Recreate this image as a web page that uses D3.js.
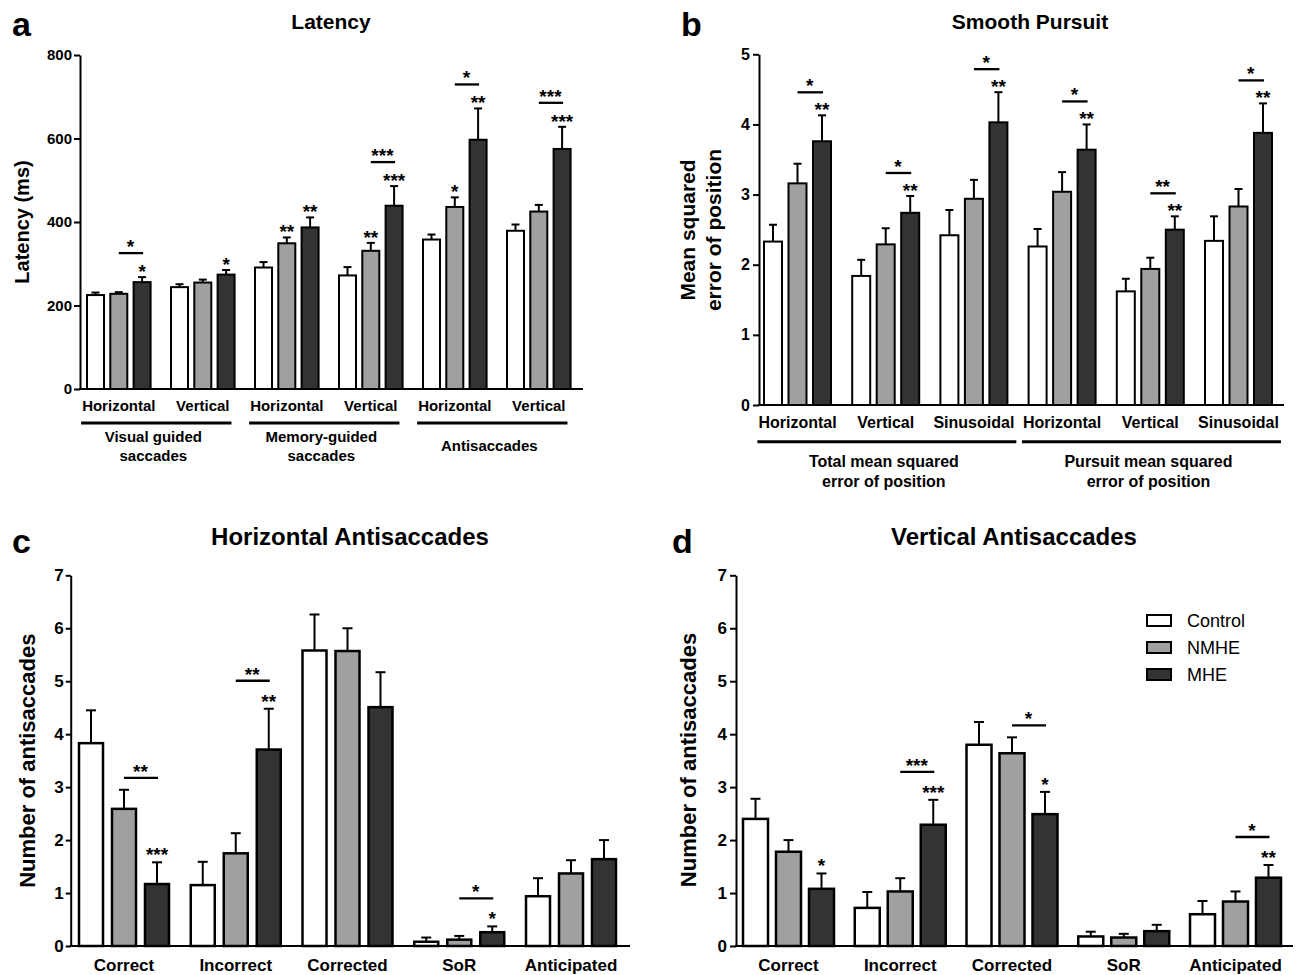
<!DOCTYPE html>
<html>
<head>
<meta charset="utf-8">
<script src="https://cdn.jsdelivr.net/npm/d3@7"></script>
<style>
body{margin:0;background:#fff}
svg{font-family:"Liberation Sans",Arial,sans-serif}
</style>
</head>
<body>
<svg id="chart" width="1298" height="975"></svg>
<script>
var groups = ["Control","NMHE","MHE"];
var fills = {Control:"#ffffff", NMHE:"#a0a0a0", MHE:"#333333"};

// a - latency (ms)
var latencyLabels = ["Horizontal","Vertical","Horizontal","Vertical","Horizontal","Vertical"];
var latencyControl = [225,244,291,272,358,379];
var latencyControlSem = [6,7,13,20,12,15];
var latencyNMHE = [228,255,349,331,436,425];
var latencyNMHESem = [4,7,14,19,23,16];
var latencyMHE = [256,274,387,439,597,575];
var latencyMHESem = [12,11,24,47,75,53];
var latencyNMHEStars = ["","","**","**","*",""];
var latencyMHEStars = ["*","*","**","***","**","***"];
var latencyBracket = ["*","","","***","*","***"];
var latencyTicks = [0,200,400,600,800];

// b - smooth pursuit
var pursuitLabels = ["Horizontal","Vertical","Sinusoidal","Horizontal","Vertical","Sinusoidal"];
var pursuitControl = [2.33,1.84,2.42,2.26,1.62,2.34];
var pursuitControlSem = [0.24,0.23,0.36,0.25,0.18,0.35];
var pursuitNMHE = [3.16,2.29,2.94,3.04,1.94,2.83];
var pursuitNMHESem = [0.28,0.23,0.27,0.28,0.16,0.25];
var pursuitMHE = [3.76,2.74,4.03,3.64,2.50,3.88];
var pursuitMHESem = [0.37,0.24,0.43,0.36,0.19,0.42];
var pursuitNMHEStars = ["","","","","",""];
var pursuitMHEStars = ["**","**","**","**","**","**"];
var pursuitBracket = ["*","*","*","*","**","*"];
var pursuitTicks = [0,1,2,3,4,5];

// c - horizontal antisaccades
var antiLabels = ["Correct","Incorrect","Corrected","SoR","Anticipated"];
var hAntiControl = [3.83,1.15,5.58,0.08,0.94];
var hAntiControlSem = [0.62,0.44,0.68,0.08,0.34];
var hAntiNMHE = [2.59,1.75,5.57,0.12,1.37];
var hAntiNMHESem = [0.36,0.38,0.43,0.07,0.25];
var hAntiMHE = [1.17,3.71,4.51,0.26,1.64];
var hAntiMHESem = [0.41,0.77,0.66,0.11,0.36];
var hAntiNMHEStars = ["","","","",""];
var hAntiMHEStars = ["***","**","","*",""];
var hAntiBracket = ["**","**","","*",""];

// d - vertical antisaccades
var vAntiControl = [2.40,0.72,3.80,0.18,0.60];
var vAntiControlSem = [0.38,0.30,0.43,0.09,0.25];
var vAntiNMHE = [1.78,1.03,3.64,0.16,0.84];
var vAntiNMHESem = [0.22,0.25,0.30,0.07,0.19];
var vAntiMHE = [1.08,2.29,2.49,0.28,1.29];
var vAntiMHESem = [0.29,0.47,0.42,0.12,0.24];
var vAntiNMHEStars = ["","","","",""];
var vAntiMHEStars = ["*","***","*","","**"];
var vAntiBracket = ["","***","*","","*"];
var antiTicks = [0,1,2,3,4,5,6,7];

var svg = d3.select('#chart');

var drawPanel = function(p){
	var g = svg.append('g');
	var y = d3.scaleLinear().domain([0, p.yMax]).range([p.y0, p.y1]);
	var content = p.barW + 2*p.barStep;
	var pi = (p.groupStep - content)/p.groupStep;
	var idx = p.labels.map(function(d,i){return i;});
	var r0 = p.firstBar - pi/2*p.groupStep;
	var x = d3.scaleBand().domain(idx)
		.range([r0, r0 + p.groupStep*idx.length])
		.paddingInner(pi).paddingOuter(pi/2);
	var xi = d3.scaleBand().domain(groups).range([0, content])
		.paddingInner(1 - p.barW/p.barStep);

	var rows = [];
	idx.forEach(function(i){
		groups.forEach(function(gr){
			rows.push({i:i, group:gr, mean:p.means[gr][i], sem:p.sems[gr][i]});
		});
	});
	var cx = function(d){return x(d.i) + xi(d.group) + xi.bandwidth()/2;};

	g.selectAll('rect.bar').data(rows).enter()
		.append('rect')
		.attr('class','bar')
		.attr('x', function(d){return x(d.i) + xi(d.group);})
		.attr('y', function(d){return y(d.mean);})
		.attr('width', xi.bandwidth())
		.attr('height', function(d){return y(0) - y(d.mean);})
		.attr('fill', function(d){return fills[d.group];})
		.attr('stroke','#000')
		.attr('stroke-width', p.sw);

	var eb = g.selectAll('g.err').data(rows).enter().append('g').attr('class','err');
	eb.append('line')
		.attr('x1', cx).attr('x2', cx)
		.attr('y1', function(d){return y(d.mean);})
		.attr('y2', function(d){return y(d.mean + d.sem);})
		.attr('stroke','#000').attr('stroke-width',2);
	eb.append('line')
		.attr('x1', function(d){return cx(d) - p.cap/2;})
		.attr('x2', function(d){return cx(d) + p.cap/2;})
		.attr('y1', function(d){return y(d.mean + d.sem);})
		.attr('y2', function(d){return y(d.mean + d.sem);})
		.attr('stroke','#000').attr('stroke-width',2);

	// y axis
	var ax = g.append('g').attr('transform','translate(' + p.axisX + ',0)')
		.call(d3.axisLeft(y).tickValues(p.ticks).tickFormat(d3.format('d'))
			.tickSize(p.tickLen).tickSizeOuter(0).tickPadding(p.tickPad));
	ax.selectAll('path,line').attr('stroke','#000').attr('stroke-width',2);
	ax.selectAll('text').attr('font-size', p.tickFont).attr('font-weight','bold')
		.attr('fill','#000').attr('font-family','"Liberation Sans",Arial,sans-serif');
	g.append('line').attr('x1', p.axisX - 1).attr('x2', p.xEnd)
		.attr('y1', y(0)).attr('y2', y(0))
		.attr('stroke','#000').attr('stroke-width',2);

	// category labels
	var labs = g.selectAll('text.cat').data(idx).enter().append('text')
		.attr('class','cat')
		.attr('x', function(i){return x(i) + content/2;})
		.attr('y', p.labelY)
		.attr('text-anchor','middle').attr('dominant-baseline','central')
		.attr('font-size', p.labelFont).attr('font-weight','bold')
		.text(function(i){return p.labels[i];});

	// star annotations
	var starText = function(sx, cy, s){
		g.append('text').attr('x', sx).attr('y', cy + 11)
			.attr('text-anchor','middle').attr('font-size',19)
			.attr('font-weight','bold')
			.text(s);
	};
	idx.forEach(function(i){
		var nTop = y(p.means.NMHE[i] + p.sems.NMHE[i]);
		var mTop = y(p.means.MHE[i] + p.sems.MHE[i]);
		var nx = x(i) + xi('NMHE') + xi.bandwidth()/2;
		var mx = x(i) + xi('MHE') + xi.bandwidth()/2;
		var nStarY = nTop - p.starOff;
		var mStarY = mTop - p.starOff;
		if (p.nStars[i]) starText(nx, nStarY, p.nStars[i]);
		if (p.mStars[i]) starText(mx, mStarY, p.mStars[i]);
		if (p.bracket[i]) {
			var top = nTop - 12;
			if (p.nStars[i]) top = Math.min(top, nStarY - p.brOff);
			if (p.mStars[i]) top = Math.min(top, mStarY - p.brOff);
			g.append('line').attr('x1', nx).attr('x2', mx + 1)
				.attr('y1', top).attr('y2', top)
				.attr('stroke','#000').attr('stroke-width',2.3);
			starText((nx + mx)/2, top - 11, p.bracket[i]);
		}
	});

	// super group underlines
	if (p.supers) {
		var nodes = labs.nodes();
		p.supers.forEach(function(s){
			var b1 = nodes[s.from].getBBox(), b2 = nodes[s.to].getBBox();
			var xa = b1.x - 1, xb = b2.x + b2.width + 2;
			g.append('line').attr('x1', xa).attr('x2', xb)
				.attr('y1', p.lineY).attr('y2', p.lineY)
				.attr('stroke','#000').attr('stroke-width',3);
			var n = s.text.length;
			s.text.forEach(function(t, k){
				g.append('text').attr('x', (xa + xb)/2 - 3)
					.attr('y', p.groupTextY + (k - (n-1)/2)*p.groupGap)
					.attr('text-anchor','middle').attr('dominant-baseline','central')
					.attr('font-size', p.groupFont).attr('font-weight','bold')
					.text(t);
			});
		});
	}

	// title, panel letter, y label
	svg.append('text').attr('x', p.titleX).attr('y', p.titleY)
		.attr('text-anchor','middle').attr('dominant-baseline','central')
		.attr('font-size', p.titleFont).attr('font-weight','bold').text(p.title);
	svg.append('text').attr('x', p.letterX).attr('y', p.letterY)
		.attr('font-size', 34).attr('font-weight','bold').text(p.letter);
	var n = p.yLabel.length;
	p.yLabel.forEach(function(t, k){
		svg.append('text')
			.attr('transform','translate(' + (p.yLabelX + (k - (n-1)/2)*26) + ',' + p.yLabelY + ') rotate(-90)')
			.attr('text-anchor','middle').attr('dominant-baseline','central')
			.attr('font-size', p.yLabelFont).attr('font-weight','bold').text(t);
	});
};

drawPanel({
	labels: latencyLabels,
	means: {Control:latencyControl, NMHE:latencyNMHE, MHE:latencyMHE},
	sems: {Control:latencyControlSem, NMHE:latencyNMHESem, MHE:latencyMHESem},
	nStars: latencyNMHEStars, mStars: latencyMHEStars, bracket: latencyBracket,
	yMax: 800, ticks: latencyTicks, y0: 389, y1: 55,
	axisX: 80, xEnd: 583, firstBar: 87, groupStep: 84, barW: 17, barStep: 23.3,
	sw: 2, cap: 8, starOff: 10, brOff: 14,
	tickLen: 6, tickPad: 2, tickFont: 15, labelFont: 15, labelY: 405,
	lineY: 423, groupTextY: 445.5, groupGap: 19, groupFont: 15,
	supers: [
		{from:0, to:1, text:["Visual guided","saccades"]},
		{from:2, to:3, text:["Memory-guided","saccades"]},
		{from:4, to:5, text:["Antisaccades"]}
	],
	title: "Latency", titleX: 331, titleY: 21, titleFont: 21,
	letter: "a", letterX: 12, letterY: 36,
	yLabel: ["Latency (ms)"], yLabelX: 22, yLabelY: 222, yLabelFont: 20
});

drawPanel({
	labels: pursuitLabels,
	means: {Control:pursuitControl, NMHE:pursuitNMHE, MHE:pursuitMHE},
	sems: {Control:pursuitControlSem, NMHE:pursuitNMHESem, MHE:pursuitMHESem},
	nStars: pursuitNMHEStars, mStars: pursuitMHEStars, bracket: pursuitBracket,
	yMax: 5, ticks: pursuitTicks, y0: 405, y1: 54.3,
	axisX: 759, xEnd: 1284, firstBar: 764, groupStep: 88.2, barW: 18, barStep: 24.5,
	sw: 2, cap: 8, starOff: 10, brOff: 13,
	tickLen: 6, tickPad: 3, tickFont: 16, labelFont: 16, labelY: 422.7,
	lineY: 441.7, groupTextY: 471.7, groupGap: 20, groupFont: 16,
	supers: [
		{from:0, to:2, text:["Total mean squared","error of position"]},
		{from:3, to:5, text:["Pursuit mean squared","error of position"]}
	],
	title: "Smooth Pursuit", titleX: 1030, titleY: 21, titleFont: 21,
	letter: "b", letterX: 681, letterY: 36,
	yLabel: ["Mean squared","error of position"], yLabelX: 700, yLabelY: 230, yLabelFont: 21
});

drawPanel({
	labels: antiLabels,
	means: {Control:hAntiControl, NMHE:hAntiNMHE, MHE:hAntiMHE},
	sems: {Control:hAntiControlSem, NMHE:hAntiNMHESem, MHE:hAntiMHESem},
	nStars: hAntiNMHEStars, mStars: hAntiMHEStars, bracket: hAntiBracket,
	yMax: 7, ticks: antiTicks, y0: 946, y1: 575.3,
	axisX: 70.7, xEnd: 630, firstBar: 79, groupStep: 111.75, barW: 24, barStep: 33,
	sw: 2.5, cap: 10, starOff: 12, brOff: 16,
	tickLen: 5, tickPad: 2, tickFont: 17, labelFont: 17, labelY: 965,
	title: "Horizontal Antisaccades", titleX: 350, titleY: 536.7, titleFont: 24,
	letter: "c", letterX: 12, letterY: 553,
	yLabel: ["Number of antisaccades"], yLabelX: 27, yLabelY: 760.7, yLabelFont: 22
});

drawPanel({
	labels: antiLabels,
	means: {Control:vAntiControl, NMHE:vAntiNMHE, MHE:vAntiMHE},
	sems: {Control:vAntiControlSem, NMHE:vAntiNMHESem, MHE:vAntiMHESem},
	nStars: vAntiNMHEStars, mStars: vAntiMHEStars, bracket: vAntiBracket,
	yMax: 7, ticks: antiTicks, y0: 946, y1: 575.3,
	axisX: 736, xEnd: 1293, firstBar: 743, groupStep: 111.75, barW: 25, barStep: 33,
	sw: 2.5, cap: 10, starOff: 12, brOff: 16,
	tickLen: 6, tickPad: 3, tickFont: 17, labelFont: 17, labelY: 965,
	title: "Vertical Antisaccades", titleX: 1014, titleY: 536.7, titleFont: 24,
	letter: "d", letterX: 672, letterY: 553,
	yLabel: ["Number of antisaccades"], yLabelX: 688, yLabelY: 760, yLabelFont: 22
});

// legend
var legend = svg.append('g').attr('transform','translate(1147,615)');
var items = legend.selectAll('g').data(groups).enter().append('g')
	.attr('transform', function(d,i){return 'translate(0,' + i*27 + ')';});
items.append('rect').attr('width',24).attr('height',11)
	.attr('fill', function(d){return fills[d];})
	.attr('stroke','#000').attr('stroke-width',2);
items.append('text').attr('x',40).attr('y',5.5)
	.attr('dominant-baseline','central').attr('font-size',18)
	.text(function(d){return d;});
</script>
</body>
</html>
